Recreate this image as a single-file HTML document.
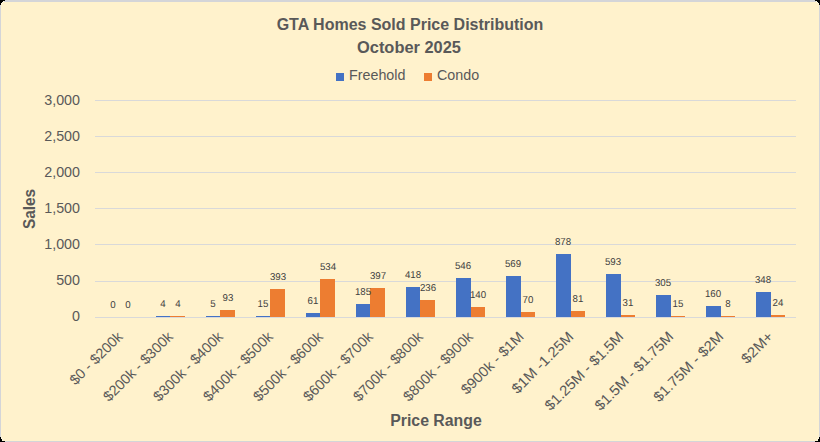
<!DOCTYPE html>
<html><head><meta charset="utf-8"><style>
html,body{margin:0;padding:0;background:#fff2cc;width:820px;height:442px;overflow:hidden}
*{box-sizing:border-box}
.abs{position:absolute;white-space:nowrap;font-family:"Liberation Sans",sans-serif}
.t{font-weight:bold;font-size:16px;color:#595959;line-height:16px}
.ax{font-size:14px;color:#595959;line-height:14px}
.dl{font-size:10px;text-rendering:geometricPrecision;color:#404040;line-height:10px;text-align:center;width:40px;transform:scaleX(0.97)}
.xl{font-size:14.4px;color:#595959;line-height:16px;transform-origin:100% 50%}
svg{position:absolute;left:0;top:0}
</style></head><body>
<svg width="820" height="442" viewBox="0 0 820 442" shape-rendering="crispEdges">
<rect x="0" y="0" width="820" height="442" fill="#d4d5d8"/>
<rect x="1" y="2" width="818" height="439" fill="#fff2cc"/>
<rect x="0" y="0" width="5" height="1" fill="#000"/>
<rect x="0" y="1" width="3" height="1" fill="#000"/>
<rect x="0" y="2" width="2" height="1" fill="#000"/>
<rect x="0" y="3" width="1" height="1" fill="#000"/>
<rect x="0" y="4" width="1" height="1" fill="#000"/>
<rect x="815" y="0" width="5" height="1" fill="#000"/>
<rect x="817" y="1" width="3" height="1" fill="#000"/>
<rect x="818" y="2" width="2" height="1" fill="#000"/>
<rect x="819" y="3" width="1" height="1" fill="#000"/>
<rect x="819" y="4" width="1" height="1" fill="#000"/>
<rect x="0" y="441" width="5" height="1" fill="#000"/>
<rect x="0" y="440" width="2" height="1" fill="#000"/>
<rect x="0" y="439" width="2" height="1" fill="#000"/>
<rect x="0" y="438" width="1" height="1" fill="#000"/>
<rect x="0" y="437" width="1" height="1" fill="#000"/>
<rect x="815" y="441" width="5" height="1" fill="#000"/>
<rect x="818" y="440" width="2" height="1" fill="#000"/>
<rect x="818" y="439" width="2" height="1" fill="#000"/>
<rect x="819" y="438" width="1" height="1" fill="#000"/>
<rect x="819" y="437" width="1" height="1" fill="#000"/>
<rect x="3" y="1" width="1" height="1" fill="#fbf7e2"/>
<rect x="2" y="2" width="1" height="1" fill="#fbf7e2"/>
<rect x="1" y="3" width="1" height="1" fill="#fbf7e2"/>
<rect x="816" y="1" width="1" height="1" fill="#fbf7e2"/>
<rect x="817" y="2" width="1" height="1" fill="#fbf7e2"/>
<rect x="818" y="3" width="1" height="1" fill="#fbf7e2"/>
<rect x="2" y="440" width="1" height="1" fill="#fbf7e2"/>
<rect x="2" y="439" width="1" height="1" fill="#fbf7e2"/>
<rect x="1" y="438" width="1" height="1" fill="#fbf7e2"/>
<rect x="1" y="437" width="1" height="1" fill="#fbf7e2"/>
<rect x="817" y="440" width="1" height="1" fill="#fbf7e2"/>
<rect x="817" y="439" width="1" height="1" fill="#fbf7e2"/>
<rect x="818" y="438" width="1" height="1" fill="#fbf7e2"/>
<rect x="818" y="437" width="1" height="1" fill="#fbf7e2"/>
<rect x="95" y="100" width="701" height="1" fill="#d9d9d9"/>
<rect x="95" y="136" width="701" height="1" fill="#d9d9d9"/>
<rect x="95" y="172" width="701" height="1" fill="#d9d9d9"/>
<rect x="95" y="208" width="701" height="1" fill="#d9d9d9"/>
<rect x="95" y="244" width="701" height="1" fill="#d9d9d9"/>
<rect x="95" y="281" width="701" height="1" fill="#d9d9d9"/>
<rect x="95" y="317" width="701" height="1" fill="#d9d9d9"/>
<rect x="156" y="316" width="14" height="1" fill="#4472c4"/>
<rect x="170" y="316" width="15" height="1" fill="#ed7d31"/>
<rect x="206" y="316" width="14" height="1" fill="#4472c4"/>
<rect x="220" y="310" width="15" height="7" fill="#ed7d31"/>
<rect x="256" y="316" width="14" height="1" fill="#4472c4"/>
<rect x="270" y="289" width="15" height="28" fill="#ed7d31"/>
<rect x="306" y="313" width="14" height="4" fill="#4472c4"/>
<rect x="320" y="279" width="15" height="38" fill="#ed7d31"/>
<rect x="356" y="304" width="14" height="13" fill="#4472c4"/>
<rect x="370" y="288" width="15" height="29" fill="#ed7d31"/>
<rect x="406" y="287" width="14" height="30" fill="#4472c4"/>
<rect x="420" y="300" width="15" height="17" fill="#ed7d31"/>
<rect x="456" y="278" width="15" height="39" fill="#4472c4"/>
<rect x="471" y="307" width="14" height="10" fill="#ed7d31"/>
<rect x="506" y="276" width="15" height="41" fill="#4472c4"/>
<rect x="521" y="312" width="14" height="5" fill="#ed7d31"/>
<rect x="556" y="254" width="15" height="63" fill="#4472c4"/>
<rect x="571" y="311" width="14" height="6" fill="#ed7d31"/>
<rect x="606" y="274" width="15" height="43" fill="#4472c4"/>
<rect x="621" y="315" width="14" height="2" fill="#ed7d31"/>
<rect x="656" y="295" width="15" height="22" fill="#4472c4"/>
<rect x="671" y="316" width="14" height="1" fill="#ed7d31"/>
<rect x="706" y="306" width="15" height="11" fill="#4472c4"/>
<rect x="721" y="316" width="14" height="1" fill="#ed7d31"/>
<rect x="756" y="292" width="15" height="25" fill="#4472c4"/>
<rect x="771" y="315" width="14" height="2" fill="#ed7d31"/>
</svg>
<div class="abs t" style="left:0;width:820px;text-align:center;top:17px">GTA Homes Sold Price Distribution</div>
<div class="abs t" style="left:0;width:820px;text-align:center;top:40px;transform:translateX(-1px) scaleX(1.025)">October 2025</div>
<div class="abs" style="left:336px;top:73px;width:8px;height:8px;background:#4472c4"></div>
<div class="abs" style="left:424px;top:73px;width:8px;height:8px;background:#ed7d31"></div>
<div class="abs ax" style="left:349px;top:68px;font-size:14.3px">Freehold</div>
<div class="abs ax" style="left:437px;top:68px;font-size:14.3px">Condo</div>
<div class="abs ax" style="right:740px;top:309.3px;text-align:right;font-size:14.3px">0</div>
<div class="abs ax" style="right:740px;top:273.2px;text-align:right;font-size:14.3px">500</div>
<div class="abs ax" style="right:740px;top:237.2px;text-align:right;font-size:14.3px">1,000</div>
<div class="abs ax" style="right:740px;top:201.1px;text-align:right;font-size:14.3px">1,500</div>
<div class="abs ax" style="right:740px;top:165.0px;text-align:right;font-size:14.3px">2,000</div>
<div class="abs ax" style="right:740px;top:129.0px;text-align:right;font-size:14.3px">2,500</div>
<div class="abs ax" style="right:740px;top:92.9px;text-align:right;font-size:14.3px">3,000</div>
<div class="abs t" style="left:30px;top:209.4px;transform:translate(-50%,-50%) rotate(-90deg) scaleX(0.96)">Sales</div>
<div class="abs t" style="left:436px;top:413px;transform:translateX(-50%) scaleX(0.99)">Price Range</div>
<div class="abs dl" style="left:93.0px;top:300.6px">0</div>
<div class="abs dl" style="left:107.5px;top:300.6px">0</div>
<div class="abs dl" style="left:143.0px;top:299.6px">4</div>
<div class="abs dl" style="left:157.5px;top:299.6px">4</div>
<div class="abs dl" style="left:193.1px;top:299.6px">5</div>
<div class="abs dl" style="left:207.6px;top:293.6px">93</div>
<div class="abs dl" style="left:243.1px;top:299.6px">15</div>
<div class="abs dl" style="left:257.6px;top:272.6px">393</div>
<div class="abs dl" style="left:293.1px;top:296.6px">61</div>
<div class="abs dl" style="left:307.6px;top:262.6px">534</div>
<div class="abs dl" style="left:343.1px;top:287.6px">185</div>
<div class="abs dl" style="left:357.6px;top:271.6px">397</div>
<div class="abs dl" style="left:393.2px;top:270.6px">418</div>
<div class="abs dl" style="left:407.7px;top:283.6px">236</div>
<div class="abs dl" style="left:443.2px;top:261.6px">546</div>
<div class="abs dl" style="left:457.7px;top:290.6px">140</div>
<div class="abs dl" style="left:493.2px;top:259.6px">569</div>
<div class="abs dl" style="left:507.7px;top:295.6px">70</div>
<div class="abs dl" style="left:543.3px;top:237.6px">878</div>
<div class="abs dl" style="left:557.8px;top:294.6px">81</div>
<div class="abs dl" style="left:593.3px;top:257.6px">593</div>
<div class="abs dl" style="left:607.8px;top:298.6px">31</div>
<div class="abs dl" style="left:643.3px;top:278.6px">305</div>
<div class="abs dl" style="left:657.8px;top:299.6px">15</div>
<div class="abs dl" style="left:693.4px;top:289.6px">160</div>
<div class="abs dl" style="left:707.9px;top:299.6px">8</div>
<div class="abs dl" style="left:743.4px;top:275.6px">348</div>
<div class="abs dl" style="left:757.9px;top:298.6px">24</div>
<div class="abs xl" style="right:699.5px;top:326.0px;transform:rotate(-45deg) scaleX(1.000)">$0 - $200k</div>
<div class="abs xl" style="right:649.5px;top:326.0px;transform:rotate(-45deg) scaleX(1.003)">$200k - $300k</div>
<div class="abs xl" style="right:599.5px;top:326.0px;transform:rotate(-45deg) scaleX(1.003)">$300k - $400k</div>
<div class="abs xl" style="right:549.5px;top:326.0px;transform:rotate(-45deg) scaleX(1.003)">$400k - $500k</div>
<div class="abs xl" style="right:499.5px;top:326.0px;transform:rotate(-45deg) scaleX(1.003)">$500k - $600k</div>
<div class="abs xl" style="right:449.5px;top:326.0px;transform:rotate(-45deg) scaleX(1.003)">$600k - $700k</div>
<div class="abs xl" style="right:399.5px;top:326.0px;transform:rotate(-45deg) scaleX(1.003)">$700k - $800k</div>
<div class="abs xl" style="right:349.5px;top:326.0px;transform:rotate(-45deg) scaleX(1.003)">$800k - $900k</div>
<div class="abs xl" style="right:299.5px;top:326.0px;transform:rotate(-45deg) scaleX(1.021)">$900k - $1M</div>
<div class="abs xl" style="right:249.5px;top:326.0px;transform:rotate(-45deg) scaleX(1.047)">$1M -1.25M</div>
<div class="abs xl" style="right:199.5px;top:326.0px;transform:rotate(-45deg) scaleX(1.035)">$1.25M - $1.5M</div>
<div class="abs xl" style="right:149.5px;top:326.0px;transform:rotate(-45deg) scaleX(1.035)">$1.5M - $1.75M</div>
<div class="abs xl" style="right:99.5px;top:326.0px;transform:rotate(-45deg) scaleX(1.038)">$1.75M - $2M</div>
<div class="abs xl" style="right:49.5px;top:326.0px;transform:rotate(-45deg) scaleX(1.044)">$2M+</div>
</body></html>
